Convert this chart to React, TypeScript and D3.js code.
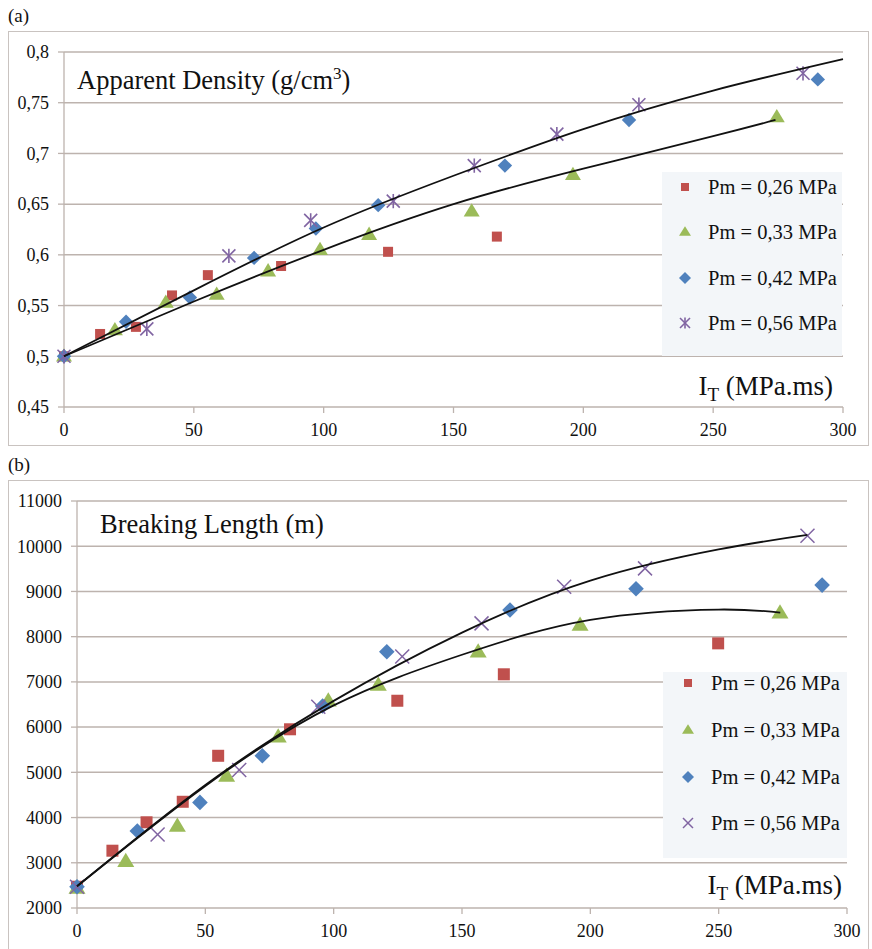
import React from "react";
import * as d3 from "d3";

// ---------- data ----------
const seriesLabels = ["Pm = 0,26 MPa", "Pm = 0,33 MPa", "Pm = 0,42 MPa", "Pm = 0,56 MPa"];
const seriesColors = ["#c0504d", "#9bbb59", "#4f81bd", "#8064a2"];

// (a) Apparent density
const a026x = [0, 13.9, 27.7, 41.6, 55.4, 83.6, 124.8, 166.7];
const a026y = [0.5, 0.522, 0.529, 0.56, 0.58, 0.589, 0.603, 0.618];
const a033x = [0, 19.6, 39.2, 58.8, 78.6, 98.6, 117.5, 157, 196, 274.5];
const a033y = [0.5, 0.526, 0.553, 0.561, 0.584, 0.605, 0.62, 0.643, 0.679, 0.736];
const a042x = [0, 23.9, 48.5, 73.2, 97, 121, 169.8, 217.6, 290.3];
const a042y = [0.5, 0.534, 0.558, 0.597, 0.626, 0.649, 0.688, 0.733, 0.773];
const a056x = [0, 31.9, 63.5, 95, 126.8, 158, 189.8, 221.4, 284.6];
const a056y = [0.5, 0.527, 0.599, 0.634, 0.653, 0.688, 0.719, 0.748, 0.779];
// trend lines (a)
const aFitUpX = [0, 50, 100, 150, 200, 250, 300];
const aFitUpY = [0.5, 0.565, 0.627, 0.678, 0.724, 0.762, 0.793];
const aFitLoX = [0, 50, 100, 150, 200, 250, 274];
const aFitLoY = [0.5, 0.554, 0.605, 0.65, 0.685, 0.717, 0.733];
const aYTicks = [0.45, 0.5, 0.55, 0.6, 0.65, 0.7, 0.75, 0.8];
const aYLabels = ["0,45", "0,5", "0,55", "0,6", "0,65", "0,7", "0,75", "0,8"];

// (b) Breaking length
const b026x = [0, 13.8, 27.1, 41.2, 55.0, 83.0, 124.8, 166.3, 249.8];
const b026y = [2470, 3267, 3895, 4349, 5366, 5952, 6583, 7168, 7852];
const b033x = [0, 19.0, 39.1, 58.3, 78.4, 97.9, 117.4, 156.3, 196, 273.9];
const b033y = [2440, 3030, 3813, 4919, 5788, 6580, 6931, 7666, 8258, 8530];
const b042x = [0, 23.5, 47.9, 72.2, 95.7, 120.7, 168.7, 217.8, 290.3];
const b042y = [2470, 3703, 4335, 5366, 6467, 7666, 8590, 9060, 9140];
const b056x = [0, 31.4, 63.2, 94.0, 126.7, 157.6, 189.8, 221.3, 284.6];
const b056y = [2470, 3627, 5052, 6450, 7560, 8294, 9103, 9510, 10230];
// trend lines (b)
const bFitUpX = [0, 50, 100, 150, 200, 250, 284.6];
const bFitUpY = [2480, 4720, 6580, 8090, 9240, 9930, 10250];
const bFitLoX = [0, 50, 100, 150, 200, 250, 274];
const bFitLoY = [2480, 4700, 6480, 7600, 8370, 8600, 8530];
const bYTicks = [2000, 3000, 4000, 5000, 6000, 7000, 8000, 9000, 10000, 11000];

const xTicks = [0, 50, 100, 150, 200, 250, 300];

const FONT = "Liberation Serif";
const GRID = "#bdb3ae";

type Series = { xs: number[]; ys: number[] };

function Marker({ kind, x, y, s, color }: { kind: number; x: number; y: number; s: number; color: string }) {
  if (kind === 0) {
    return <rect x={x - s / 2} y={y - s / 2} width={s} height={s} fill={color} />;
  }
  if (kind === 1) {
    const h = s * 0.95;
    return (
      <path
        d={`M${x},${y - h * 0.6} L${x + s / 2 + 1},${y + h * 0.4} L${x - s / 2 - 1},${y + h * 0.4} Z`}
        fill={color}
      />
    );
  }
  if (kind === 2) {
    const r = s * 0.6;
    return <path d={`M${x},${y - r} L${x + r},${y} L${x},${y + r} L${x - r},${y} Z`} fill={color} />;
  }
  if (kind === 3) {
    const r = s / 2;
    return (
      <g stroke={color} strokeWidth={1.6}>
        <line x1={x - r} y1={y - r} x2={x + r} y2={y + r} />
        <line x1={x - r} y1={y + r} x2={x + r} y2={y - r} />
        <line x1={x} y1={y - r * 1.1} x2={x} y2={y + r * 1.1} />
      </g>
    );
  }
  const r = s / 2;
  return (
    <g stroke={color} strokeWidth={1.5}>
      <line x1={x - r} y1={y - r} x2={x + r} y2={y + r} />
      <line x1={x - r} y1={y + r} x2={x + r} y2={y - r} />
    </g>
  );
}

type PanelProps = {
  top: number;
  boxH: number;
  panelLabel: string;
  plotL: number;
  plotR: number;
  plotT: number;
  plotB: number;
  yDomain: [number, number];
  yTicks: number[];
  yLabels: string[];
  series: Series[];
  fits: Series[];
  title: React.ReactNode;
  titleX: number;
  titleY: number;
  legendBox: { x: number; y: number; w: number; h: number; rowY: number[]; mx: number; tx: number };
  lastMarker: number;
  markerSizes: number[];
  axisLabelY: number;
  axisLabelRight: number;
};

function Panel(p: PanelProps) {
  const x = d3.scaleLinear().domain([0, 300]).range([p.plotL, p.plotR]);
  const y = d3.scaleLinear().domain(p.yDomain).range([p.plotB, p.plotT]);
  const line = d3
    .line<[number, number]>()
    .x((d) => x(d[0]))
    .y((d) => y(d[1]))
    .curve(d3.curveNatural);
  const kinds = [0, 1, 2, p.lastMarker];
  const lb = p.legendBox;
  const tf = { fontFamily: FONT };
  return (
    <g>
      <text x={8} y={p.top - 9} style={tf} fontSize={19} fill="#111">
        {p.panelLabel}
      </text>
      <rect x={8.5} y={p.top + 0.5} width={860} height={p.boxH} fill="#fff" stroke="#c9c3c0" strokeWidth={1} />
      {/* gridlines */}
      {p.yTicks.map((t, i) =>
        i === 0 ? null : (
          <line key={i} x1={p.plotL} x2={p.plotR} y1={y(t)} y2={y(t)} stroke={GRID} strokeWidth={1.5} />
        )
      )}
      {/* axes */}
      <line x1={p.plotL} x2={p.plotL} y1={p.plotT} y2={p.plotB} stroke={GRID} strokeWidth={1.3} />
      <line x1={p.plotL} x2={p.plotR} y1={p.plotB} y2={p.plotB} stroke={GRID} strokeWidth={1.3} />
      {p.yTicks.map((t, i) => (
        <g key={"yt" + i}>
          <line x1={p.plotL - 6} x2={p.plotL} y1={y(t)} y2={y(t)} stroke={GRID} strokeWidth={1.3} />
          <text x={p.plotL - 15} y={y(t)} dy="0.35em" textAnchor="end" style={tf} fontSize={18} fill="#111">
            {p.yLabels[i]}
          </text>
        </g>
      ))}
      {xTicks.map((t, i) => (
        <g key={"xt" + i}>
          <line x1={x(t)} x2={x(t)} y1={p.plotB} y2={p.plotB + 6} stroke={GRID} strokeWidth={1.3} />
          <text x={x(t)} y={p.plotB + 23} dy="0.35em" textAnchor="middle" style={tf} fontSize={18} fill="#111">
            {t}
          </text>
        </g>
      ))}
      {/* legend background */}
      <rect x={lb.x} y={lb.y} width={lb.w} height={lb.h} fill="#f3f6f9" />
      {/* title */}
      <text x={p.titleX} y={p.titleY} style={tf} fontSize={26.5} fill="#111">
        {p.title}
      </text>
      {/* axis label */}
      <text x={p.axisLabelRight} y={p.axisLabelY} textAnchor="end" style={tf} fontSize={27} fill="#111">
        I<tspan fontSize={19} dy={6}>T</tspan>
        <tspan dy={-6}> (MPa.ms)</tspan>
      </text>
      {/* points */}
      {p.series.map((s, si) =>
        s.xs.map((xv, i) => (
          <Marker
            key={si + "-" + i}
            kind={kinds[si]}
            x={x(xv)}
            y={y(s.ys[i])}
            s={p.markerSizes[si]}
            color={seriesColors[si]}
          />
        ))
      )}
      {/* trend lines */}
      {p.fits.map((f, fi) => (
        <path
          key={"f" + fi}
          d={line(f.xs.map((xv, i) => [xv, f.ys[i]] as [number, number])) || ""}
          fill="none"
          stroke="#111"
          strokeWidth={1.8}
        />
      ))}
      {/* legend */}
      {seriesLabels.map((lab, i) => (
        <g key={"lg" + i}>
          <Marker kind={kinds[i]} x={lb.mx} y={lb.rowY[i]} s={i === 0 ? 8 : 10} color={seriesColors[i]} />
          <text x={lb.tx} y={lb.rowY[i]} dy="0.35em" style={tf} fontSize={20.5} fill="#111">
            {lab}
          </text>
        </g>
      ))}
    </g>
  );
}

export default function App() {
  const seriesA: Series[] = [
    { xs: a026x, ys: a026y },
    { xs: a033x, ys: a033y },
    { xs: a042x, ys: a042y },
    { xs: a056x, ys: a056y },
  ];
  const fitsA: Series[] = [
    { xs: aFitUpX, ys: aFitUpY },
    { xs: aFitLoX, ys: aFitLoY },
  ];
  const seriesB: Series[] = [
    { xs: b026x, ys: b026y },
    { xs: b033x, ys: b033y },
    { xs: b042x, ys: b042y },
    { xs: b056x, ys: b056y },
  ];
  const fitsB: Series[] = [
    { xs: bFitUpX, ys: bFitUpY },
    { xs: bFitLoX, ys: bFitLoY },
  ];
  return (
    <svg width={872} height={949} style={{ position: "absolute", left: 0, top: 0 }}>
      <rect x={0} y={0} width={872} height={949} fill="#fff" />
      <Panel
        top={31}
        boxH={414}
        panelLabel="(a)"
        plotL={64}
        plotR={843}
        plotT={52}
        plotB={407}
        yDomain={[0.45, 0.8]}
        yTicks={aYTicks}
        yLabels={aYLabels}
        series={seriesA}
        fits={fitsA}
        title={
          <>
            Apparent Density (g/cm<tspan fontSize={17} dy={-10}>3</tspan>
            <tspan dy={10}>)</tspan>
          </>
        }
        titleX={77}
        titleY={89}
        legendBox={{ x: 662, y: 172, w: 180, h: 184, rowY: [187, 232, 278, 323], mx: 685, tx: 708 }}
        lastMarker={3}
        markerSizes={[10, 14, 12, 13]}
        axisLabelY={395}
        axisLabelRight={833}
      />
      <Panel
        top={480}
        boxH={480}
        panelLabel="(b)"
        plotL={77}
        plotR={847}
        plotT={501}
        plotB={908}
        yDomain={[2000, 11000]}
        yTicks={bYTicks}
        yLabels={bYTicks.map(String)}
        series={seriesB}
        fits={fitsB}
        title={<>Breaking Length (m)</>}
        titleX={100}
        titleY={533}
        legendBox={{ x: 663, y: 672, w: 184, h: 186, rowY: [683, 730, 777, 823], mx: 688, tx: 711 }}
        lastMarker={4}
        markerSizes={[12, 15, 13, 14]}
        axisLabelY={894}
        axisLabelRight={842}
      />
    </svg>
  );
}
